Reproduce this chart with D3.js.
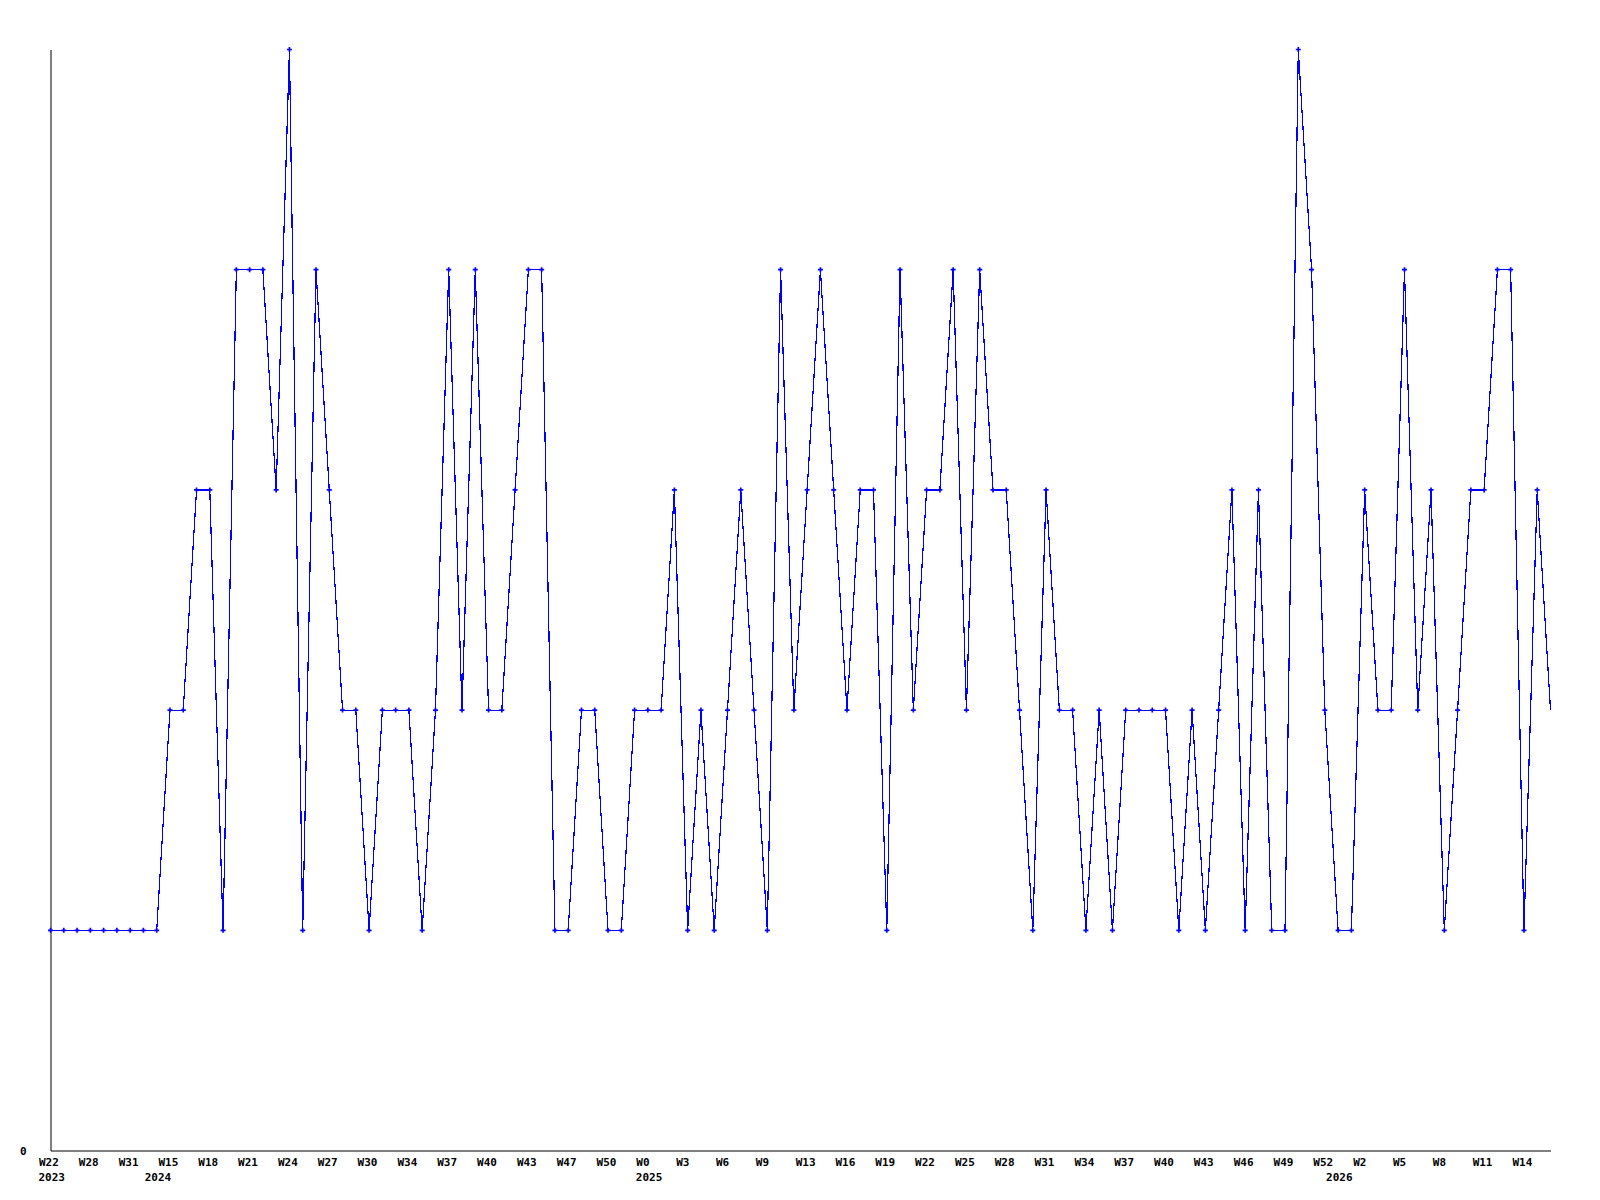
<!DOCTYPE html>
<html>
<head>
<meta charset="utf-8">
<script src="https://cdn.jsdelivr.net/npm/d3@7"></script>
<style>
  body { margin: 0; background: #fff; }
  text { font-family: "DejaVu Sans Mono", monospace; font-weight: bold; font-size: 11px; }
</style>
</head>
<body>
<svg id="chart" width="1600" height="1200"></svg>
<script>
// weekly counts, one per point
const values = [
  1, 1, 1, 1, 1, 1, 1, 1, 1, 2,
  2, 3, 3, 1, 4, 4, 4, 3, 5, 1,
  4, 3, 2, 2, 1, 2, 2, 2, 1, 2,
  4, 2, 4, 2, 2, 3, 4, 4, 1, 1,
  2, 2, 1, 1, 2, 2, 2, 3, 1, 2,
  1, 2, 3, 2, 1, 4, 2, 3, 4, 3,
  2, 3, 3, 1, 4, 2, 3, 3, 4, 2,
  4, 3, 3, 2, 1, 3, 2, 2, 1, 2,
  1, 2, 2, 2, 2, 1, 2, 1, 2, 3,
  1, 3, 1, 1, 5, 4, 2, 1, 1, 3,
  2, 2, 4, 2, 3, 1, 2, 3, 3, 4,
  4, 1, 3, 2
];

// a label on every 3rd point
const tickEvery = 3;
const tickLabels = [
  'W22', 'W28', 'W31', 'W15', 'W18', 'W21', 'W24', 'W27', 'W30', 'W34',
  'W37', 'W40', 'W43', 'W47', 'W50', 'W0', 'W3', 'W6', 'W9', 'W13',
  'W16', 'W19', 'W22', 'W25', 'W28', 'W31', 'W34', 'W37', 'W40', 'W43',
  'W46', 'W49', 'W52', 'W2', 'W5', 'W8', 'W11', 'W14'
];

// year labels and the first point of each year
const years = ['2023', '2024', '2025', '2026'];
const yearStart = [0, 8, 45, 97];

const svg = d3.select('#chart');

var x = d3.scaleLinear()
  .domain([0, values.length - 1])
  .range([50.5, 1550.5]);
var y = d3.scaleLinear()
  .domain([0, 5])
  .range([1150.5, 49.5]);

// x axis, labels start a little left of their point
var xAxis = svg.append('g')
  .attr('transform', 'translate(0,' + y(0) + ')')
  .call(d3.axisBottom(x)
    .tickValues(tickLabels.map(function(d, i) { return i * tickEvery; }))
    .tickFormat(function(d) { return tickLabels[d / tickEvery]; })
    .tickSize(0)
    .tickSizeOuter(0)
    .tickPadding(8));
xAxis.selectAll('text')
  .attr('fill', '#000')
  .attr('text-anchor', 'start')
  .attr('dx', -12)
  .style('font-family', '"DejaVu Sans Mono", monospace')
  .style('font-weight', 'bold')
  .style('font-size', '11px');
xAxis.select('.domain').attr('stroke', '#000');

svg.selectAll('.year')
  .data(years)
  .enter()
  .append('text')
  .attr('class', 'year')
  .attr('x', function(d, i) { return x(yearStart[i]) - 12; })
  .attr('y', 1181)
  .attr('text-anchor', 'start')
  .text(function(d) { return d; });

// y axis, only the zero is labelled
var yAxis = svg.append('g')
  .attr('transform', 'translate(' + x(0) + ',0)')
  .call(d3.axisLeft(y)
    .tickValues([0])
    .tickFormat(d3.format('d'))
    .tickSize(0)
    .tickSizeOuter(0)
    .tickPadding(24));
yAxis.selectAll('text')
  .attr('fill', '#000')
  .style('font-family', '"DejaVu Sans Mono", monospace')
  .style('font-weight', 'bold')
  .style('font-size', '11px');
yAxis.select('.domain').attr('stroke', '#000');

// the line
var line = d3.line()
  .x(function(d, i) { return x(i); })
  .y(function(d) { return y(d); });

svg.append('path')
  .datum(values)
  .attr('d', line)
  .attr('fill', 'none')
  .attr('stroke', '#0000ff')
  .attr('stroke-width', 1.2)
  .attr('shape-rendering', 'crispEdges');

// small cross markers (none on the last point, as in the source)
var cross = d3.symbol().type(d3.symbolCross).size(14);
svg.selectAll('.pt')
  .data(values.slice(0, values.length - 1))
  .enter()
  .append('path')
  .attr('class', 'pt')
  .attr('d', cross)
  .attr('transform', function(d, i) { return 'translate(' + x(i) + ',' + y(d) + ')'; })
  .attr('fill', '#0000ff');
</script>
</body>
</html>
